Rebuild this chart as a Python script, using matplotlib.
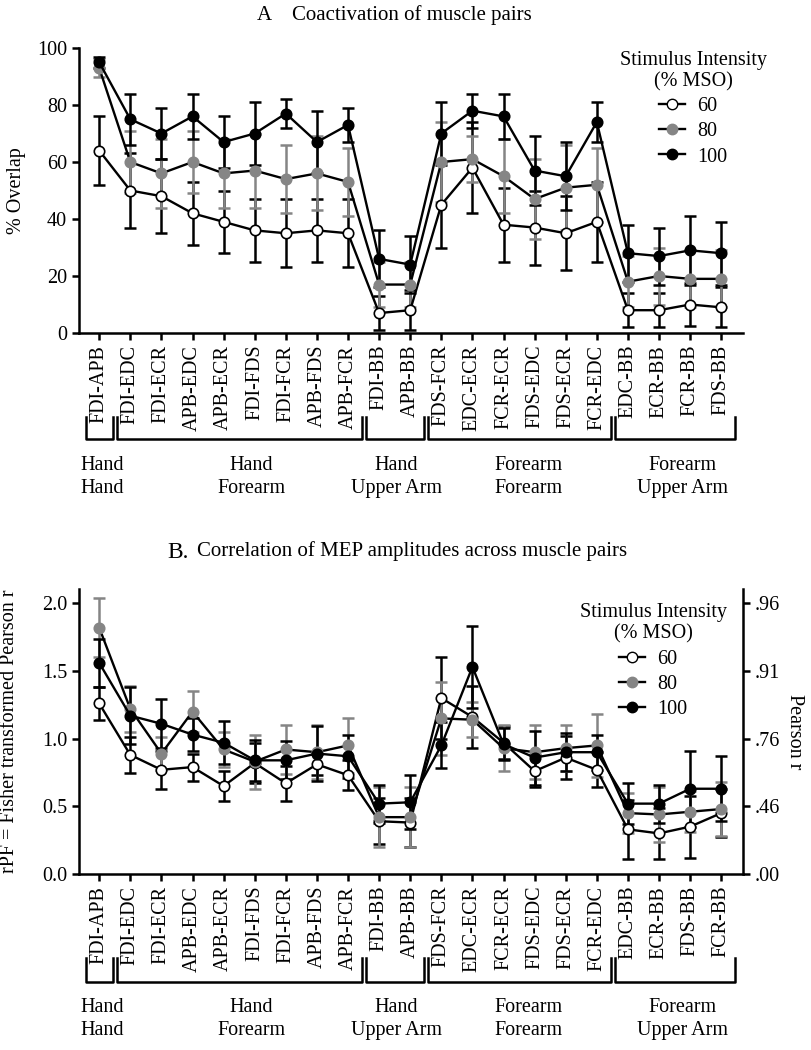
import numpy as np
import matplotlib
matplotlib.use('Agg')
import matplotlib.pyplot as plt
from matplotlib.lines import Line2D

plt.rcParams['font.family'] = ['Liberation Serif', 'DejaVu Serif']
plt.rcParams['font.size'] = 14.5

# panel A: coactivation (% overlap)
labels_a = ['FDI-APB', 'FDI-EDC', 'FDI-ECR', 'APB-EDC', 'APB-ECR', 'FDI-FDS', 'FDI-FCR',
            'APB-FDS', 'APB-FCR', 'FDI-BB', 'APB-BB', 'FDS-FCR', 'EDC-ECR', 'FCR-ECR',
            'FDS-EDC', 'FDS-ECR', 'FCR-EDC', 'EDC-BB', 'ECR-BB', 'FCR-BB', 'FDS-BB']
a60 = [64, 50, 48, 42, 39, 36, 35, 36, 35, 7, 8, 45, 58, 38, 37, 35, 39, 8, 8, 10, 9]
a60_err = [12, 13, 13, 11, 11, 11, 12, 11, 12, 6, 7, 15, 16, 13, 13, 13, 14, 6, 6, 7.5, 7]
a80 = [93, 60, 56, 60, 56, 57, 54, 56, 53, 17, 17, 60, 61, 55, 47, 51, 52, 18, 20, 19, 19]
a80_err = [3, 11, 12, 11, 12, 13, 12, 13, 12, 8, 8, 14, 8, 13, 14, 15, 13, 9, 10, 10, 10]
a100 = [95, 75, 70, 76, 67, 70, 77, 67, 73, 26, 24, 70, 78, 76, 57, 55, 74, 28, 27, 29, 28]
a100_err = [2, 9, 9, 8, 9, 11, 5, 11, 6, 10, 10, 11, 6, 8, 12, 12, 7, 10, 10, 12, 11]

# panel B: Fisher transformed correlations
labels_b = ['FDI-APB', 'FDI-EDC', 'FDI-ECR', 'APB-EDC', 'APB-ECR', 'FDI-FDS', 'FDI-FCR',
            'APB-FDS', 'APB-FCR', 'FDI-BB', 'APB-BB', 'FDS-FCR', 'EDC-ECR', 'FCR-ECR',
            'FDS-EDC', 'FDS-ECR', 'FCR-EDC', 'EDC-BB', 'ECR-BB', 'FDS-BB', 'FCR-BB']
b60 = [1.26, 0.88, 0.77, 0.79, 0.65, 0.82, 0.67, 0.81, 0.73, 0.39, 0.38, 1.30, 1.16,
       0.97, 0.76, 0.86, 0.77, 0.33, 0.30, 0.35, 0.45]
b60_err = [0.12, 0.13, 0.14, 0.10, 0.11, 0.15, 0.13, 0.08, 0.11, 0.17, 0.18, 0.30, 0.23,
           0.12, 0.12, 0.16, 0.13, 0.22, 0.19, 0.23, 0.18]
b80 = [1.82, 1.22, 0.89, 1.20, 0.92, 0.83, 0.92, 0.90, 0.95, 0.42, 0.42, 1.15, 1.14,
       0.93, 0.90, 0.93, 0.95, 0.45, 0.44, 0.46, 0.48]
b80_err = [0.22, 0.17, 0.12, 0.15, 0.13, 0.20, 0.18, 0.20, 0.20, 0.22, 0.22, 0.27, 0.13,
           0.17, 0.20, 0.17, 0.23, 0.15, 0.20, 0.15, 0.20]
b100 = [1.56, 1.17, 1.11, 1.03, 0.97, 0.84, 0.84, 0.89, 0.87, 0.52, 0.53, 0.95, 1.53,
        0.96, 0.86, 0.90, 0.90, 0.52, 0.52, 0.63, 0.63]
b100_err = [0.18, 0.21, 0.18, 0.12, 0.16, 0.15, 0.14, 0.20, 0.16, 0.14, 0.20, 0.17, 0.30,
            0.12, 0.20, 0.14, 0.13, 0.15, 0.14, 0.28, 0.24]

pearson_ticks = ['.00', '.46', '.76', '.91', '.96']

group_names = ['Hand\nHand', 'Hand\nForearm', 'Hand\nUpper Arm', 'Forearm\nForearm', 'Forearm\nUpper Arm']
group_first = [0, 1, 9, 11, 17]
group_last = [0, 8, 10, 16, 20]
group_text_x = [0.1, 4.9, 9.55, 13.8, 18.75]

GRAY = '#858585'


def _plot_series(ax, vals, errs, face, ecol, label):
  x = np.arange(len(vals))
  ax.errorbar(x, vals, yerr=errs, fmt='none', ecolor=ecol, elinewidth=1.8,
              capsize=4, capthick=1.8, zorder=2, clip_on=False)
  ax.plot(x, vals, '-', color='black', lw=1.7, marker='o', ms=7.5,
          mfc=face, mec='black' if face == 'white' else face, mew=1.2,
          label=label, zorder=3, clip_on=False)


def _style(ax, labels):
  for side in ['top', 'right']:
    ax.spines[side].set_visible(False)
  for side in ['left', 'bottom']:
    ax.spines[side].set_linewidth(1.8)
  ax.set_xlim(-0.65, 20.7)
  ax.set_xticks(np.arange(len(labels)))
  ax.set_xticklabels(labels, rotation=90, va='top', ha='center')
  ax.tick_params(width=1.8, length=5)


def _brackets(ax, y_low, y_high, y_text):
  trans = ax.get_xaxis_transform()
  for name, first, last, tx in zip(group_names, group_first, group_last, group_text_x):
    x0 = first - 0.42
    x1 = last + 0.45
    ax.plot([x0, x0, x1, x1], [y_high, y_low, y_low, y_high], color='black',
            lw=1.8, transform=trans, clip_on=False)
    ax.text(tx, y_text, name, transform=trans, ha='center', va='center',
            linespacing=1.25)


def _legend(ax, anchor):
  handles = [Line2D([], [], color='black', lw=1.7, marker='o', ms=7.5, mfc=f,
                    mec='black' if f == 'white' else f)
             for f in ['white', GRAY, 'black']]
  leg = ax.legend(handles, ['60', '80', '100'], title='Stimulus Intensity\n(% MSO)',
                  loc='upper center', bbox_to_anchor=anchor, frameon=False,
                  handlelength=1.3, handletextpad=0.6, labelspacing=0.3,
                  borderpad=0.2)
  leg.get_title().set_multialignment('center')
  leg.get_title().set_linespacing(1.15)


fig = plt.figure(figsize=(8.12, 10.5), dpi=100)

ax_a = fig.add_axes([79 / 812, 1 - 333 / 1050, 664 / 812, 285 / 1050])
_plot_series(ax_a, a60, a60_err, 'white', 'black', '60')
_plot_series(ax_a, a80, a80_err, GRAY, GRAY, '80')
_plot_series(ax_a, a100, a100_err, 'black', 'black', '100')
_style(ax_a, labels_a)
ax_a.set_ylim(0, 100)
ax_a.set_yticks([0, 20, 40, 60, 80, 100])
ax_a.set_ylabel('% Overlap')
ax_a.yaxis.set_label_coords(-0.08, 0.5)
_brackets(ax_a, -0.372, -0.295, -0.505)
_legend(ax_a, (0.925, 1.04))

ax_b = fig.add_axes([79 / 812, 1 - 874 / 1050, 664 / 812, 285 / 1050])
_plot_series(ax_b, b60, b60_err, 'white', 'black', '60')
_plot_series(ax_b, b80, b80_err, GRAY, GRAY, '80')
_plot_series(ax_b, b100, b100_err, 'black', 'black', '100')
_style(ax_b, labels_b)
ax_b.set_ylim(0, 2.106)
ax_b.set_yticks([0, 0.5, 1.0, 1.5, 2.0])
ax_b.set_yticklabels(['0.0', '0.5', '1.0', '1.5', '2.0'])
ax_b.set_ylabel('rPF = Fisher transformed Pearson r')
ax_b.yaxis.set_label_coords(-0.09, 0.5)
_brackets(ax_b, -0.378, -0.295, -0.509)
_legend(ax_b, (0.865, 1.0))

ax_r = ax_b.twinx()
ax_r.set_ylim(ax_b.get_ylim())
ax_r.set_yticks([0, 0.5, 1.0, 1.5, 2.0])
ax_r.set_yticklabels(pearson_ticks)
for side in ['top', 'left', 'bottom']:
  ax_r.spines[side].set_visible(False)
ax_r.spines['right'].set_linewidth(1.8)
ax_r.tick_params(width=1.8, length=5)
ax_r.set_ylabel('Pearson r', rotation=270, va='center')
ax_r.yaxis.set_label_coords(1.078, 0.5)

fig.text(257 / 812, 1 - 15 / 1050, 'A    Coactivation of muscle pairs', ha='left', va='center',
         fontsize=15)
fig.text(167 / 812, 1 - 553 / 1050, 'B.', ha='left', va='center', fontsize=17)
fig.text(197 / 812, 1 - 551 / 1050, 'Correlation of MEP amplitudes across muscle pairs',
         ha='left', va='center', fontsize=15)

fig.savefig('out.png', dpi=100)
